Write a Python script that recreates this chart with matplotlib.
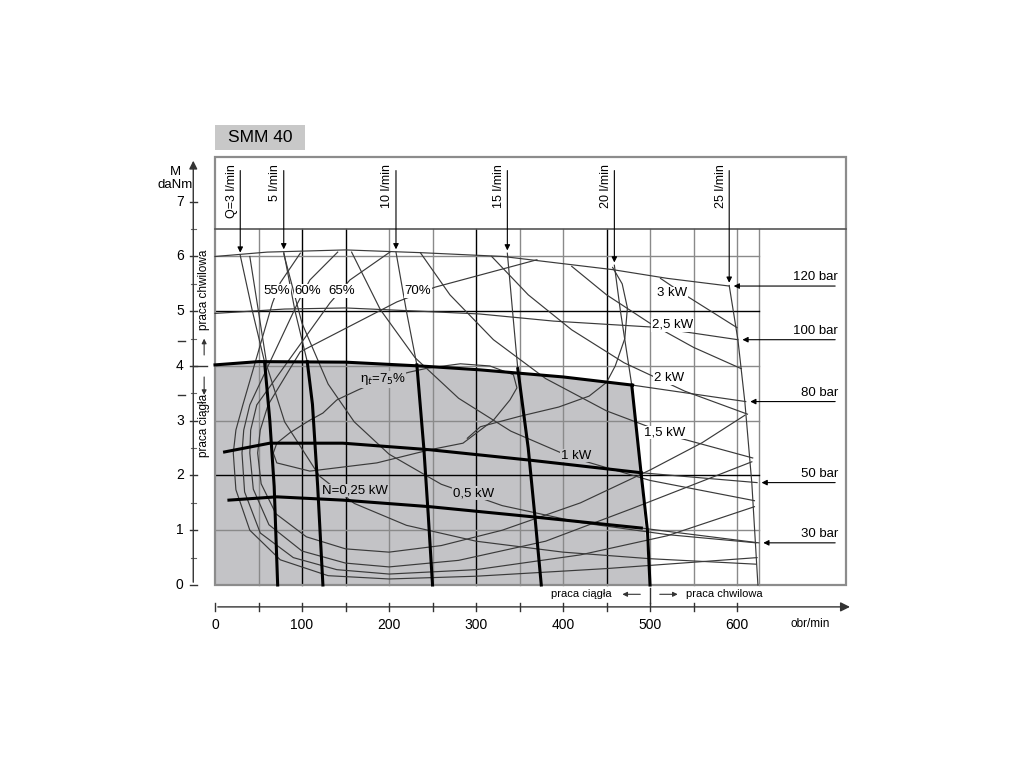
import numpy as np
import matplotlib.pyplot as plt
from matplotlib.patches import Polygon, Rectangle

plt.rcParams['font.family'] = ['Liberation Sans', 'DejaVu Sans']

# ---- data (rpm, daNm) ----
x_ticks = [0, 100, 200, 300, 400, 500, 600]
y_ticks = [0, 1, 2, 3, 4, 5, 6, 7]

# flow lines (Q) : arrow tip first, thick part starts at index thick_from
flow_labels = ['Q=3 l/min', '5 l/min', '10 l/min', '15 l/min', '20 l/min', '25 l/min']
flow_rpm = [[29, 43, 57, 63, 68, 72],
            [79, 92, 106, 112, 118, 124],
            [208, 220, 232, 240, 245, 250],
            [336, 342, 348, 360, 368, 375],
            [459, 466, 479, 490, 497, 500],
            [591, 601, 609, 617, 624]]
flow_m = [[6.02, 5.0, 4.07, 3.0, 1.8, 0],
          [6.08, 5.0, 4.08, 3.3, 1.8, 0],
          [6.08, 5.0, 4.02, 2.5, 1.3, 0],
          [6.06, 5.0, 3.95, 2.5, 1.2, 0],
          [5.84, 5.0, 3.65, 2.0, 1.0, 0],
          [5.47, 4.48, 3.34, 1.86, 0]]
flow_thick_from = [2, 2, 2, 2, 2, None]

# pressure lines (bar) : thick part up to index thick_to
press_labels = ['120 bar', '100 bar', '80 bar', '50 bar', '30 bar']
press_rpm = [[0, 60, 150, 236, 331, 457, 520, 591],
             [0, 80, 150, 236, 304, 389, 503, 601],
             [0, 50, 150, 236, 304, 400, 480, 610],
             [11, 63, 147, 247, 362, 490, 623],
             [16, 71, 147, 247, 362, 490, 625]]
press_m = [[6.0, 6.08, 6.12, 6.07, 6.0, 5.76, 5.6, 5.46],
           [4.96, 5.04, 5.06, 5.0, 4.95, 4.82, 4.71, 4.48],
           [4.02, 4.08, 4.07, 4.0, 3.93, 3.8, 3.65, 3.35],
           [2.43, 2.59, 2.59, 2.47, 2.28, 2.05, 1.87],
           [1.55, 1.61, 1.55, 1.43, 1.25, 1.04, 0.77]]
press_thick_to = [None, None, 7, 6, 6]

# power lines N (kW)
power_labels = ['N=0,25 kW', '0,5 kW', '1 kW', '1,5 kW', '2 kW', '2,5 kW', '3 kW']
power_rpm = [[40, 60, 80, 120, 160, 220, 300, 400, 500, 622],
             [79, 100, 130, 160, 200, 260, 330, 420, 520, 622],
             [157, 190, 230, 280, 340, 410, 500, 620],
             [236, 270, 320, 380, 450, 530, 618],
             [318, 360, 410, 470, 540, 612],
             [410, 450, 500, 550, 605],
             [512, 540, 570, 600]]
power_m = [[6.0, 3.98, 2.98, 1.99, 1.49, 1.09, 0.8, 0.6, 0.48, 0.38],
           [6.05, 4.78, 3.67, 2.98, 2.39, 1.84, 1.45, 1.14, 0.92, 0.77],
           [6.08, 5.03, 4.15, 3.41, 2.81, 2.33, 1.91, 1.54],
           [6.07, 5.3, 4.48, 3.77, 3.18, 2.7, 2.32],
           [6.0, 5.3, 4.66, 4.06, 3.54, 3.12],
           [5.82, 5.3, 4.78, 4.34, 3.95],
           [5.6, 5.3, 5.0, 4.7]]
power_lab_pos = [(161, 1.72), (297, 1.68), (415, 2.36), (517, 2.78), (522, 3.78), (526, 4.75), (525, 5.33)]

# total efficiency curves
eff_labels = ['55%', '60%', '65%', '70%']
eff_rpm = [[98, 75, 66, 32, 24, 21, 24, 40, 75, 130, 200, 300, 450, 623],
           [141, 109, 95, 40, 33, 31, 34, 52, 90, 140, 200, 300, 420, 520, 620],
           [201, 155, 132, 48, 41, 40, 44, 62, 100, 150, 200, 280, 380, 480, 617],
           [370, 253, 209, 98, 61, 52, 49, 53, 70, 105, 150, 200, 260, 330, 420, 500, 560, 609]]
eff_m = [[6.06, 5.52, 5.15, 3.29, 2.83, 2.41, 1.74, 1.0, 0.46, 0.17, 0.11, 0.16, 0.3, 0.5],
         [6.08, 5.57, 5.15, 3.29, 2.83, 2.41, 1.7, 0.95, 0.5, 0.28, 0.2, 0.28, 0.55, 0.9, 1.43],
         [6.08, 5.57, 5.15, 3.29, 2.83, 2.41, 1.75, 1.1, 0.62, 0.4, 0.33, 0.45, 0.8, 1.4, 2.25],
         [5.94, 5.44, 5.17, 4.26, 3.29, 2.83, 2.41, 1.85, 1.3, 0.88, 0.66, 0.6, 0.72, 1.0, 1.5, 2.1, 2.6, 3.1]]
eff_lab_pos = [(71, 5.37), (107, 5.37), (146, 5.37), (233, 5.37)]

eff75_rpm = [67, 71, 86, 109, 124, 140, 164, 193, 224, 244, 282, 316, 343, 347, 339,
             320, 285, 247, 186, 109, 71, 67]
eff75_m = [2.41, 2.59, 2.78, 3.01, 3.14, 3.38, 3.56, 3.76, 3.89, 3.96, 4.04, 4.0, 3.84, 3.6, 3.38,
           3.01, 2.59, 2.47, 2.23, 2.08, 2.23, 2.41]

# curve bulging right of the 20 l/min line
bulge_rpm = [457, 468, 474, 471, 460, 450, 430, 395, 350, 305, 290]
bulge_m = [5.8, 5.5, 5.06, 4.5, 4.0, 3.7, 3.45, 3.25, 3.08, 2.89, 2.68]

# ---- figure ----
fig = plt.figure(figsize=(10.24, 7.68), dpi=100)
ax = fig.add_axes([0.159, 0.167, 0.6967, 0.6844])
ax.set_xlim(-60, 760)
ax.set_ylim(-1.0, 8.6)
ax.axis('off')

thin = dict(color='#3a3a3a', lw=0.85)
thick = dict(color='black', lw=2.2)
gray_bg = '#c3c3c6'

# continuous work area (gray)
top_r = press_rpm[2][:7]
top_m = press_m[2][:7]
poly = [(0, 0)] + list(zip(top_r, top_m)) + [(500, 0)]
ax.add_patch(Polygon(poly, closed=True, facecolor=gray_bg, edgecolor='none', zorder=0))

# grid
for gx in [50, 100, 150, 200, 250, 300, 350, 400, 450, 500, 550, 600, 625]:
    c = 'black' if gx in (100, 150, 300, 450) else '#8a8a8a'
    ax.plot([gx, gx], [0, 6.5], color=c, lw=1.0, zorder=1)
for gy in [1, 2, 3, 4, 5, 6]:
    c = 'black' if gy in (2, 5) else '#8a8a8a'
    ax.plot([0, 625], [gy, gy], color=c, lw=1.0, zorder=1)

# frame
ax.add_patch(Rectangle((0, 0), 725, 7.82, fill=False, edgecolor='#8c8c8c', lw=1.6, zorder=2))
ax.plot([0, 725], [6.5, 6.5], color='#555555', lw=1.2, zorder=2)

# title box
ax.add_patch(Rectangle((0, 7.95), 103, 0.45, facecolor='#c8c8c8', edgecolor='none', clip_on=False))
ax.text(52, 8.17, 'SMM 40', fontsize=12.5, ha='center', va='center')

# efficiency curves
for r, m in zip(eff_rpm, eff_m):
    ax.plot(r, m, zorder=3, **thin)
ax.plot(eff75_rpm, eff75_m, zorder=3, **thin)
ax.plot(bulge_rpm, bulge_m, zorder=3, **thin)
for lab, (px, py) in zip(eff_labels, eff_lab_pos):
    ax.text(px, py, lab, fontsize=9.5, ha='center', va='center', zorder=6,
            bbox=dict(facecolor='white', edgecolor='none', pad=0.5))
ax.text(193, 3.76, '\u03b7$_t$=7$_5$%', fontsize=9.5, ha='center', va='center', zorder=6,
        bbox=dict(facecolor=gray_bg, edgecolor='none', pad=0.3))

# power curves
for r, m in zip(power_rpm, power_m):
    ax.plot(r, m, zorder=3, **thin)
for i, (lab, (px, py)) in enumerate(zip(power_labels, power_lab_pos)):
    fc = gray_bg if i < 3 else 'white'
    ax.text(px, py, lab, fontsize=9.5, ha='center', va='center', zorder=6,
            bbox=dict(facecolor=fc, edgecolor='none', pad=0.5))

# pressure lines
for i, (r, m) in enumerate(zip(press_rpm, press_m)):
    k = press_thick_to[i]
    if k is None:
        ax.plot(r, m, zorder=4, **thin)
    else:
        ax.plot(r[:k], m[:k], zorder=5, **thick)
        ax.plot(r[k - 1:], m[k - 1:], zorder=4, **thin)
    ax.annotate('', xy=(r[-1] + 2, m[-1]), xytext=(716, m[-1]),
                arrowprops=dict(arrowstyle='-|>', color='black', lw=0.8, mutation_scale=8),
                zorder=5)
    ax.text(716, m[-1] + 0.05, press_labels[i], fontsize=9.5, ha='right', va='bottom')

# flow lines
for i, (r, m) in enumerate(zip(flow_rpm, flow_m)):
    k = flow_thick_from[i]
    if k is None:
        ax.plot(r, m, zorder=4, **thin)
    else:
        ax.plot(r[:k + 1], m[:k + 1], zorder=4, **thin)
        ax.plot(r[k:], m[k:], zorder=5, **thick)
    ax.annotate('', xy=(r[0], m[0]), xytext=(r[0], 7.62),
                arrowprops=dict(arrowstyle='-|>', color='black', lw=0.8, mutation_scale=8),
                zorder=5)
    ax.text(r[0] - 3, 7.68, flow_labels[i], fontsize=9, rotation=90, ha='right', va='top')

# left (torque) axis
ax.annotate('', xy=(-25, 7.8), xytext=(-25, 0),
            arrowprops=dict(arrowstyle='-|>', color='#333333', lw=1.0, mutation_scale=12),
            annotation_clip=False)
for yt in y_ticks:
    ax.plot([-29, -21], [yt, yt], color='#333333', lw=1.0, clip_on=False)
    ax.text(-36, yt, str(yt), fontsize=10, ha='right', va='center')
for yt in np.arange(0.5, 7.0, 1.0):
    ax.plot([-28, -22], [yt, yt], color='#666666', lw=0.8, clip_on=False)
ax.plot([-25, -9], [4, 4], color='#333333', lw=1.0, clip_on=False)
ax.plot([-42, -35], [4.46, 4.46], color='#333333', lw=1.0, clip_on=False)
ax.plot([-42, -35], [3.47, 3.47], color='#333333', lw=1.0, clip_on=False)
ax.text(-46, 7.55, 'M', fontsize=9.5, ha='center', va='center')
ax.text(-46, 7.31, 'daNm', fontsize=9.5, ha='center', va='center')
ax.text(-12.5, 5.4, 'praca chwilowa', fontsize=8.5, rotation=90, ha='center', va='center')
ax.text(-12.5, 2.92, 'praca ci\u0105g\u0142a', fontsize=8.5, rotation=90, ha='center', va='center')
ax.annotate('', xy=(-12.5, 4.55), xytext=(-12.5, 4.15),
            arrowprops=dict(arrowstyle='-|>', color='#333333', lw=0.8, mutation_scale=7),
            annotation_clip=False)
ax.annotate('', xy=(-12.5, 3.42), xytext=(-12.5, 3.85),
            arrowprops=dict(arrowstyle='-|>', color='#333333', lw=0.8, mutation_scale=7),
            annotation_clip=False)

# bottom (speed) axis
ax.annotate('', xy=(733, -0.40), xytext=(0, -0.40),
            arrowprops=dict(arrowstyle='-|>', color='#333333', lw=1.0, mutation_scale=14),
            annotation_clip=False)
for xt in np.arange(0, 650, 50):
    ax.plot([xt, xt], [-0.33, -0.47], color='#333333', lw=1.0, clip_on=False)
for xt in x_ticks:
    ax.text(xt, -0.73, str(xt), fontsize=10, ha='center', va='center')
ax.text(684, -0.71, 'obr/min', fontsize=8.5, ha='center', va='center')

ax.plot([500, 500], [-0.05, -0.33], color='#333333', lw=1.0, clip_on=False)
ax.text(456, -0.17, 'praca ci\u0105g\u0142a', fontsize=8, ha='right', va='center')
ax.annotate('', xy=(465, -0.17), xytext=(492, -0.17),
            arrowprops=dict(arrowstyle='-|>', color='#333333', lw=0.8, mutation_scale=7),
            annotation_clip=False)
ax.annotate('', xy=(535, -0.17), xytext=(508, -0.17),
            arrowprops=dict(arrowstyle='-|>', color='#333333', lw=0.8, mutation_scale=7),
            annotation_clip=False)
ax.text(541, -0.17, 'praca chwilowa', fontsize=8, ha='left', va='center')

fig.savefig('out.png', dpi=100)
